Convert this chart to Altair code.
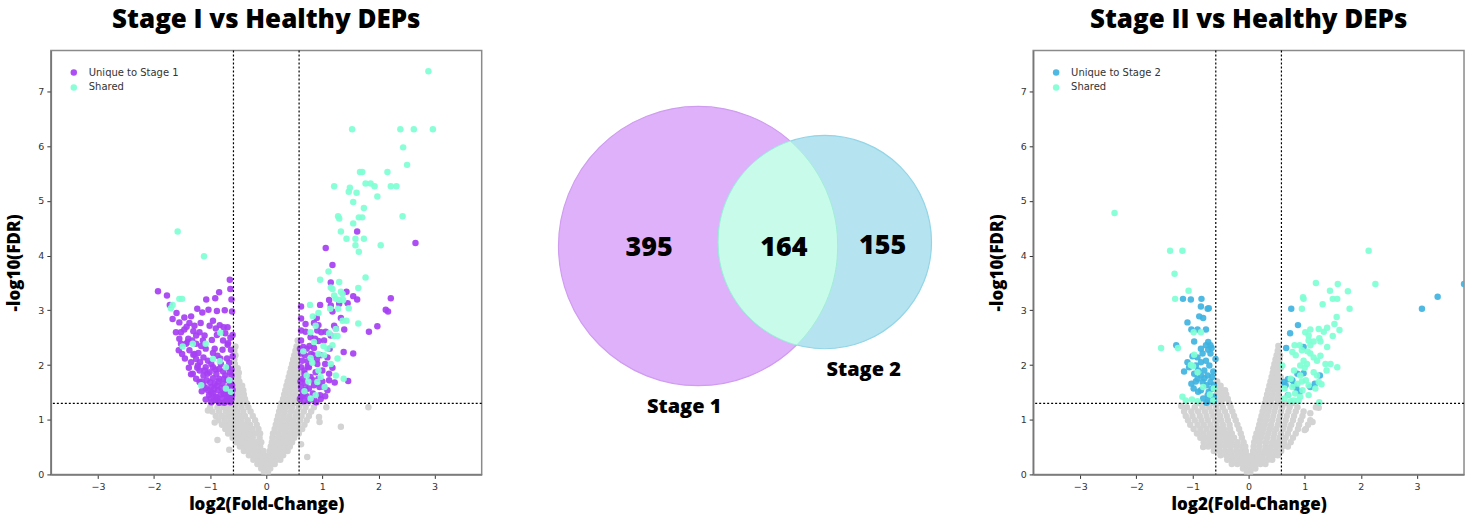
import math
import numpy as np
import pandas as pd
import altair as alt

# ---------------------------------------------------------------- thresholds
FC_CUT = 0.585   # log2(1.5)
FDR_CUT = 1.3    # -log10(0.05)

X_DOMAIN = [-3.84, 3.84]
Y_DOMAIN = [0, 7.75]
X_TICKS = [-3, -2, -1, 0, 1, 2, 3]
Y_TICKS = [0, 1, 2, 3, 4, 5, 6, 7]

PURPLE = "#a63ff3"
BLUE = "#3fb3df"
MINT = "#7fffd4"
GREY = "#d3d3d3"

# ------------------------------------------------ Stage I vs Healthy (log2FC, -log10 FDR)
S1_UNIQUE = [
    (-1.93, 3.35), (-1.77, 3.27), (-1.72, 3.10), (-0.65, 3.56), (-0.64, 3.39), (-0.84, 3.33),
    (-0.91, 3.22), (-1.07, 3.20), (-0.61, 2.98), (-0.74, 3.00), (-1.03, 3.01), (-0.88, 2.99),
    (-1.23, 3.03), (-1.14, 2.96), (-1.34, 2.89), (-1.46, 2.87), (-1.67, 2.84), (-1.55, 2.78),
    (-1.37, 2.77), (-1.28, 2.72), (-1.17, 2.77), (-0.95, 2.81), (-1.01, 2.72), (-0.83, 2.73),
    (-0.90, 2.67), (-0.69, 2.69), (-0.76, 2.69), (-1.61, 2.60), (-1.52, 2.60), (-1.46, 2.65),
    (-1.19, 2.60), (-1.25, 2.54), (-1.10, 2.54), (-0.64, 2.50), (-1.55, 2.48), (-1.39, 2.48),
    (-1.32, 2.45), (-0.97, 2.46), (-1.52, 2.39), (-1.43, 2.39), (-1.25, 2.39), (-1.16, 2.35),
    (-0.69, 2.37), (-1.56, 2.27), (-1.37, 2.27), (-1.08, 2.30), (-0.92, 2.30), (-0.78, 2.28),
    (-1.21, 2.22), (-1.30, 2.19), (-0.60, 2.16), (-0.87, 2.17), (-1.12, 2.14), (-1.25, 2.11),
    (-1.04, 2.08), (-1.18, 2.05), (-0.81, 2.02), (-0.66, 2.04), (-1.34, 2.05), (-1.22, 1.99),
    (-0.95, 1.96), (-1.08, 1.96), (-0.84, 1.93), (-1.19, 1.90), (-1.01, 1.87), (-1.31, 1.84),
    (-0.89, 1.84), (-0.65, 1.87), (-1.12, 1.81), (-0.73, 1.81), (-1.34, 1.83), (-0.95, 1.76),
    (-0.84, 1.75), (-1.06, 1.72), (-1.19, 1.69), (-0.66, 1.72), (-0.92, 1.66), (-0.78, 1.66),
    (-1.12, 1.63), (-0.98, 1.60), (-0.72, 1.58), (-0.86, 1.54), (-1.04, 1.54), (-0.63, 1.52),
    (-0.95, 1.48), (-0.81, 1.46), (-0.69, 1.45), (-0.90, 1.42), (-0.99, 1.39), (-0.78, 1.39),
    (-0.66, 1.37), (-0.87, 1.35), (-0.98, 1.32), (-0.72, 1.34), (-0.84, 1.31), (-0.61, 1.45),
    (-0.61, 1.63), (-0.62, 1.81), (-0.62, 1.38), (-0.70, 1.42), (-0.76, 1.48), (-0.93, 1.36),
    (-1.02, 1.45), (-1.08, 1.58), (-1.15, 1.70), (-1.23, 1.95), (-1.10, 1.90), (-0.98, 2.02),
    (-0.70, 2.12), (-0.63, 2.28), (-0.77, 2.45), (-0.88, 2.55), (-1.28, 2.20), (-1.40, 2.42),
    (-1.45, 2.12), (-0.75, 1.75), (-0.68, 1.95), (-0.88, 1.62), (-0.74, 1.53), (-0.64, 1.66),
    (-0.60, 1.55), (-0.67, 1.60), (-0.80, 1.58), (-0.93, 1.56), (-1.00, 1.68), (-0.85, 1.70),
    (-0.70, 1.72), (-0.62, 1.92), (-0.77, 1.88), (-0.91, 1.92), (-1.05, 1.84), (-0.82, 2.12),
    (-0.95, 2.22), (-0.68, 2.40), (-0.60, 2.55), (-0.73, 2.58), (-1.13, 2.45), (-1.30, 2.62),
    (-1.42, 2.70), (-1.60, 2.95), (-0.88, 1.40), (-1.08, 1.37), (-0.75, 1.31), (-0.64, 1.32),
    (-0.98, 1.50), (-1.15, 1.52), (-1.25, 1.75), (-1.38, 1.95), (-1.50, 2.20), (-0.62, 3.20),
    # up-regulated
    (1.62, 4.44), (2.66, 4.23), (1.06, 4.14), (1.18, 3.83), (1.15, 3.51), (1.43, 3.34),
    (1.55, 3.26), (1.62, 3.20), (2.22, 3.22), (0.62, 3.07), (0.96, 3.10), (1.12, 3.19),
    (1.15, 3.09), (1.45, 3.13), (1.30, 3.12), (2.13, 3.01), (2.17, 2.98), (1.18, 2.98),
    (1.33, 2.86), (0.90, 2.86), (0.85, 2.77), (0.93, 2.73), (1.98, 2.71), (1.21, 2.72),
    (1.24, 2.67), (1.39, 2.65), (1.83, 2.61), (0.62, 2.63), (0.70, 2.61), (0.91, 2.63),
    (0.98, 2.60), (1.06, 2.61), (1.15, 2.54), (0.79, 2.51), (0.87, 2.48), (0.93, 2.44),
    (0.62, 2.45), (0.66, 2.33), (0.77, 2.35), (0.85, 2.31), (1.55, 2.21), (1.38, 2.24),
    (0.62, 2.21), (0.69, 2.18), (0.84, 2.18), (0.97, 2.18), (0.64, 2.08), (0.74, 2.07),
    (0.91, 2.02), (1.05, 2.02), (1.09, 2.14), (0.62, 1.96), (0.76, 1.96), (0.88, 1.87),
    (1.00, 1.90), (1.12, 1.84), (0.68, 1.84), (0.79, 1.78), (0.65, 1.75), (0.93, 1.75),
    (1.12, 1.72), (1.22, 1.68), (1.46, 1.71), (0.70, 1.66), (0.85, 1.63), (1.03, 1.60),
    (0.62, 1.60), (0.76, 1.57), (1.09, 1.54), (0.65, 1.51), (0.83, 1.48), (0.96, 1.45),
    (1.05, 1.43), (0.72, 1.43), (0.62, 1.42), (0.76, 1.35), (0.67, 1.34), (0.85, 1.37),
    (0.60, 1.38), (0.66, 1.45), (0.70, 1.55), (0.61, 1.70), (0.68, 1.90), (0.60, 2.30),
    (0.72, 2.30), (0.80, 2.20), (0.90, 2.10), (0.74, 1.98), (0.83, 1.72), (0.95, 1.60),
    (0.89, 1.32), (0.97, 1.38), (1.00, 1.70), (0.62, 2.85), (0.70, 2.75), (1.03, 2.45),
    (1.13, 2.30), (1.18, 1.95),
]

S1_SHARED = [
    (2.89, 7.37), (1.53, 6.31), (2.39, 6.31), (2.63, 6.31), (2.97, 6.31), (2.44, 5.98),
    (2.51, 5.66), (1.67, 5.53), (1.71, 5.53), (2.16, 5.53), (1.21, 5.27), (1.49, 5.24),
    (1.47, 5.17), (1.61, 5.15), (1.77, 5.32), (1.86, 5.32), (1.93, 5.27), (2.22, 5.27),
    (2.32, 5.27), (1.98, 5.08), (1.55, 4.98), (1.74, 4.87), (1.28, 4.72), (1.30, 4.68),
    (1.65, 4.70), (1.71, 4.70), (2.43, 4.72), (1.55, 4.59), (1.33, 4.44), (1.43, 4.31),
    (1.59, 4.31), (1.74, 4.31), (1.59, 4.19), (2.04, 4.19), (1.65, 4.07), (1.11, 3.71),
    (0.96, 3.56), (1.77, 3.60), (1.30, 3.52), (1.15, 3.42), (1.18, 3.39), (1.33, 3.34),
    (1.36, 3.30), (1.64, 3.41), (1.21, 3.27), (1.24, 3.21), (1.30, 3.19), (1.37, 3.19),
    (0.78, 3.10), (1.14, 3.03), (1.28, 3.03), (1.47, 3.04), (0.93, 2.95), (1.36, 2.81),
    (1.43, 2.81), (1.64, 2.76), (0.83, 2.89), (0.88, 2.72), (1.24, 2.66), (0.79, 2.60),
    (1.12, 2.58), (1.21, 2.53), (1.27, 2.53), (0.85, 2.42), (1.18, 2.36), (1.09, 2.30),
    (0.93, 2.20), (1.03, 2.18), (1.27, 2.12), (0.79, 2.13), (1.15, 2.02), (0.82, 2.04),
    (0.93, 1.90), (1.24, 1.81), (1.38, 1.75), (0.72, 1.81), (0.91, 1.69), (1.04, 1.60),
    (0.79, 1.39), (0.68, 1.52), (0.75, 1.70), (0.88, 1.45), (0.97, 1.78), (1.02, 2.35),
    (0.66, 2.25),
    # down-regulated
    (-1.58, 4.44), (-1.11, 3.99), (-1.67, 3.10), (-1.70, 3.04), (-1.55, 3.21), (-1.50, 3.21),
    (-0.82, 2.59), (-1.31, 2.39), (-1.08, 2.39), (-1.49, 2.34), (-0.95, 2.11), (-0.83, 2.07),
    (-0.72, 1.96), (-1.16, 1.63), (-0.66, 1.72), (-0.63, 1.51), (-0.72, 1.57),
]

# non-significant proteins, one row per FDR level: (-log10 FDR, [log2FC, ...])
S1_GREY_ROWS = [
    (0.03, [-0.04, 0.03]),
    (0.11, [-0.09, -0.01, 0.07]),
    (0.19, [-0.16, -0.08, 0.00, 0.08, 0.15]),
    (0.27, [-0.23, -0.15, -0.07, 0.02, 0.10, 0.18, 0.25]),
    (0.35, [-0.31, -0.22, -0.13, -0.04, 0.05, 0.13, 0.21, 0.30]),
    (0.43, [-0.40, -0.31, -0.22, -0.13, -0.05, 0.06, 0.14, 0.23, 0.32, 0.38]),
    (0.51, [-0.47, -0.38, -0.29, -0.20, -0.11, 0.08, 0.17, 0.26, 0.35, 0.42]),
    (0.59, [-0.54, -0.45, -0.36, -0.27, -0.17, -0.09, 0.10, 0.19, 0.28, 0.37, 0.46]),
    (0.67, [-0.60, -0.51, -0.42, -0.33, -0.24, -0.12, 0.11, 0.21, 0.30, 0.40, 0.50]),
    (0.75, [-0.68, -0.58, -0.48, -0.39, -0.30, -0.20, -0.11, 0.12, 0.22, 0.32, 0.42, 0.52, 0.58]),
    (0.83, [-0.73, -0.64, -0.54, -0.44, -0.35, -0.25, -0.14, 0.15, 0.25, 0.35, 0.45, 0.55, 0.64]),
    (0.91, [-0.79, -0.69, -0.59, -0.49, -0.39, -0.29, -0.17, 0.17, 0.27, 0.37, 0.47, 0.57, 0.68]),
    (0.99, [-0.85, -0.74, -0.64, -0.54, -0.44, -0.33, -0.20, 0.19, 0.29, 0.39, 0.49, 0.60, 0.72]),
    (1.07, [-0.90, -0.79, -0.68, -0.58, -0.48, -0.38, -0.24, 0.21, 0.31, 0.41, 0.52, 0.63, 0.76]),
    (1.15, [-0.96, -0.84, -0.72, -0.62, -0.52, -0.41, -0.28, 0.23, 0.33, 0.44, 0.55, 0.67, 0.80]),
    (1.23, [-1.00, -0.87, -0.76, -0.66, -0.55, -0.44, -0.32, 0.25, 0.35, 0.46, 0.58, 0.70, 0.85]),
    (1.30, [-0.80, -0.68, -0.56, -0.46, -0.35, 0.27, 0.38, 0.49, 0.62, 0.74]),
    (1.38, [-0.56, -0.47, -0.38, 0.30, 0.40, 0.50, 0.57]),
    (1.46, [-0.57, -0.48, -0.40, 0.32, 0.42, 0.52]),
    (1.54, [-0.56, -0.48, -0.41, 0.34, 0.43, 0.53]),
    (1.62, [-0.57, -0.50, -0.43, 0.36, 0.45, 0.54]),
    (1.70, [-0.56, -0.48, 0.38, 0.47, 0.56]),
    (1.78, [-0.57, -0.50, 0.40, 0.48, 0.56]),
    (1.86, [-0.56, -0.49, 0.42, 0.50, 0.57]),
    (1.94, [-0.57, -0.51, 0.44, 0.52]),
    (2.02, [-0.56, 0.46, 0.54]),
    (2.10, [-0.57, 0.48, 0.55]),
    (2.18, [-0.55, 0.50, 0.56]),
    (2.26, [-0.57, 0.52]),
    (2.34, [-0.55, 0.54]),
    (2.45, [0.56]),
]
S1_GREY_EXTRA = [
    (-0.87, 0.63), (0.73, 0.32), (0.94, 1.05), (0.95, 0.96), (1.07, 1.23), (1.82, 1.23),
    (1.33, 0.87), (-1.04, 1.17), (-0.92, 0.95), (-0.66, 0.45), (0.62, 0.55),
]

# ------------------------------------------------ Stage II vs Healthy
S2_UNIQUE = [
    (3.84, 3.48), (3.37, 3.25), (3.09, 3.03), (0.76, 3.03), (0.88, 2.73), (0.74, 2.58),
    (0.67, 2.31), (0.98, 2.33), (0.78, 1.72), (0.87, 1.84), (0.98, 1.85), (0.63, 1.69),
    (0.70, 1.74), (0.66, 1.63), (0.81, 1.63), (0.85, 1.58), (0.91, 1.51), (1.10, 1.60),
    (1.18, 1.66), (1.27, 1.81), (0.70, 1.45),
    (-1.17, 3.21), (-1.03, 3.20), (-0.84, 3.21), (-0.71, 3.04), (-0.73, 3.03), (-0.85, 3.07),
    (-0.88, 2.89), (-0.81, 2.86), (-1.09, 2.78), (-1.02, 2.65), (-0.91, 2.65), (-0.76, 2.65),
    (-0.97, 2.43), (-1.29, 2.36), (-0.72, 2.42), (-0.68, 2.36), (-0.76, 2.36), (-0.85, 2.30),
    (-0.72, 2.28), (-0.66, 2.31), (-0.59, 2.11), (-0.82, 2.21), (-0.68, 2.21), (-0.91, 2.14),
    (-1.00, 2.16), (-1.09, 2.05), (-0.85, 2.05), (-0.76, 2.08), (-0.94, 1.99), (-0.70, 1.99),
    (-1.06, 1.96), (-1.15, 1.88), (-0.90, 1.90), (-0.79, 1.90), (-0.63, 1.88), (-0.97, 1.84),
    (-0.85, 1.81), (-0.73, 1.81), (-0.65, 1.78), (-0.91, 1.75), (-0.82, 1.69), (-0.68, 1.69),
    (-1.02, 1.66), (-0.75, 1.63), (-0.62, 1.63), (-0.98, 1.57), (-0.85, 1.54), (-0.71, 1.51),
    (-0.90, 1.51), (-0.73, 1.45), (-0.62, 1.42), (-0.81, 1.39), (-0.72, 1.35), (-0.62, 1.34),
    (-0.75, 1.31), (-0.94, 1.70), (-0.79, 1.76), (-0.66, 1.56),
]

S2_SHARED = [
    (-2.39, 4.78), (-1.40, 4.09), (-1.18, 4.09), (-1.32, 3.67), (-1.31, 3.21), (-1.07, 3.36),
    (-1.56, 2.31), (-1.26, 2.31), (-0.98, 2.60), (-0.85, 2.60), (-0.97, 2.19), (-1.03, 2.00),
    (-0.99, 1.98), (-0.91, 1.87), (-0.81, 1.60), (-1.18, 1.42), (-1.12, 1.35), (-1.01, 1.37),
    (-0.91, 1.34), (-0.69, 1.46), (-0.62, 1.57), (-0.63, 1.35),
    (2.14, 4.09), (1.20, 3.50), (1.59, 3.48), (2.26, 3.48), (1.45, 3.36), (1.77, 3.35),
    (0.97, 3.24), (0.98, 3.21), (1.50, 3.21), (1.58, 3.21), (1.32, 3.11), (0.95, 3.03),
    (1.80, 3.03), (1.57, 2.88), (1.53, 2.75), (1.40, 2.68), (1.62, 2.64), (1.10, 2.65),
    (1.01, 2.60), (1.07, 2.54), (1.25, 2.66), (1.34, 2.61), (1.50, 2.53), (1.26, 2.49),
    (1.28, 2.43), (1.07, 2.45), (1.16, 2.43), (0.82, 2.36), (0.91, 2.36), (1.10, 2.36),
    (1.40, 2.33), (0.78, 2.24), (0.95, 2.27), (1.10, 2.21), (1.28, 2.17), (0.84, 2.18),
    (1.16, 2.14), (1.22, 2.08), (1.37, 2.02), (1.46, 2.02), (1.58, 1.96), (0.98, 2.08),
    (1.04, 2.02), (0.92, 1.99), (0.60, 1.99), (1.39, 1.90), (0.81, 1.90), (1.16, 1.87),
    (0.92, 1.81), (1.22, 1.81), (0.75, 1.75), (1.02, 1.72), (1.25, 1.69), (0.87, 1.66),
    (1.30, 1.65), (0.78, 1.60), (1.07, 1.63), (0.64, 1.57), (0.96, 1.54), (1.19, 1.57),
    (0.83, 1.48), (0.71, 1.45), (1.07, 1.45), (0.92, 1.42), (0.64, 1.39), (0.80, 1.35),
    (0.89, 1.35), (1.26, 1.32), (0.75, 1.34), (1.00, 1.95), (1.05, 2.25), (0.95, 1.70),
]

S2_GREY_ROWS = [
    (0.03, [-0.03, 0.03]),
    (0.11, [-0.10, -0.02, 0.06, 0.12]),
    (0.19, [-0.30, -0.20, -0.11, -0.03, 0.05, 0.13, 0.21, 0.30]),
    (0.27, [-0.38, -0.28, -0.19, -0.10, -0.02, 0.07, 0.16, 0.25, 0.34, 0.42]),
    (0.35, [-0.50, -0.40, -0.30, -0.20, -0.11, -0.03, 0.07, 0.16, 0.25, 0.35, 0.45, 0.52]),
    (0.43, [-0.62, -0.52, -0.42, -0.32, -0.22, -0.12, -0.05, 0.08, 0.18, 0.28, 0.38, 0.48, 0.58]),
    (0.51, [-0.72, -0.62, -0.52, -0.42, -0.32, -0.22, -0.12, -0.06, 0.09, 0.19, 0.30, 0.40, 0.50, 0.60, 0.70]),
    (0.59, [-0.80, -0.70, -0.60, -0.50, -0.40, -0.30, -0.20, -0.09, 0.10, 0.20, 0.31, 0.42, 0.52, 0.63, 0.75]),
    (0.67, [-0.86, -0.76, -0.66, -0.56, -0.46, -0.36, -0.26, -0.12, 0.12, 0.22, 0.33, 0.44, 0.55, 0.66, 0.79]),
    (0.75, [-0.92, -0.81, -0.70, -0.60, -0.50, -0.40, -0.30, -0.14, 0.14, 0.24, 0.35, 0.46, 0.58, 0.70, 0.84]),
    (0.83, [-0.98, -0.86, -0.75, -0.64, -0.54, -0.44, -0.33, -0.17, 0.17, 0.27, 0.38, 0.49, 0.61, 0.73, 0.88, 1.02]),
    (0.91, [-1.04, -0.91, -0.80, -0.68, -0.57, -0.46, -0.34, -0.20, 0.19, 0.29, 0.40, 0.52, 0.64, 0.76, 0.90, 1.06]),
    (0.99, [-1.08, -0.96, -0.84, -0.72, -0.60, -0.49, -0.37, -0.23, 0.21, 0.31, 0.42, 0.54, 0.66, 0.79, 0.93, 1.10]),
    (1.07, [-1.12, -1.00, -0.87, -0.75, -0.63, -0.51, -0.39, -0.26, 0.23, 0.33, 0.44, 0.56, 0.68, 0.81, 0.96]),
    (1.15, [-1.15, -1.02, -0.90, -0.78, -0.66, -0.54, -0.42, -0.29, 0.25, 0.35, 0.46, 0.58, 0.71, 0.84, 0.98]),
    (1.23, [-1.10, -0.96, -0.82, -0.70, -0.58, -0.46, -0.32, 0.27, 0.37, 0.48, 0.60, 0.73, 0.87, 1.20]),
    (1.30, [-0.88, -0.74, -0.62, -0.50, -0.35, 0.29, 0.40, 0.52, 0.65, 0.78]),
    (1.38, [-0.56, -0.46, -0.37, 0.31, 0.41, 0.51, 0.57]),
    (1.46, [-0.57, -0.48, -0.40, 0.33, 0.43, 0.53]),
    (1.54, [-0.56, -0.48, -0.42, 0.35, 0.44, 0.54]),
    (1.62, [-0.57, -0.50, 0.37, 0.46, 0.55]),
    (1.70, [-0.56, 0.39, 0.48, 0.56]),
    (1.78, [0.41, 0.49, 0.57]),
    (1.86, [0.43, 0.51]),
    (1.94, [0.44, 0.52, 0.57]),
    (2.02, [0.46, 0.54]),
    (2.10, [0.48, 0.55]),
    (2.18, [0.50, 0.56]),
    (2.26, [0.52]),
    (2.35, [0.53]),
]
S2_GREY_EXTRA = [
    (-0.81, 0.50), (1.14, 0.96), (1.00, 0.81), (-1.20, 1.25), (1.10, 1.12), (1.25, 1.22),
]

# ------------------------------------------------ Venn diagram
VENN_COUNTS = [395, 164, 155]
VENN_SETS = ["Stage 1", "Stage 2"]

# panel geometry (pixels): the middle panel uses a 1:1 pixel coordinate frame
MID_X0, MID_W = 503, 463
MID_Y0, MID_H = 48, 425
CIRCLE_1 = (697, 244, 140)   # centre x, centre y, radius
CIRCLE_2 = (824, 240, 107)
COUNT_POS = [(648, 246), (783, 246), (882, 244)]
SET_LABEL_POS = [(683, 405), (863, 368)]

HEAD_FONT = "Open Sans"
TICK_FONT = "DejaVu Sans"
TITLE_OFFSET = 17


def grey_points(rows, extra):
    pts = [(x, y) for y, xs in rows for x in xs]
    return pd.DataFrame(pts + list(extra), columns=["x", "y"])


def volcano(title, grey_rows, grey_extra, unique, shared, unique_label, unique_color):
    x_enc = alt.X(
        "x:Q",
        scale=alt.Scale(domain=X_DOMAIN, nice=False, zero=False),
        axis=alt.Axis(values=X_TICKS, title="log2(Fold-Change)", format="d", titlePadding=6),
    )
    y_enc = alt.Y(
        "y:Q",
        scale=alt.Scale(domain=Y_DOMAIN, nice=False, zero=False),
        axis=alt.Axis(values=Y_TICKS, title="-log10(FDR)", format="d", titlePadding=14),
    )

    grey = alt.Chart(grey_points(grey_rows, grey_extra)).mark_circle(
        size=42, color=GREY, opacity=1, clip=True
    ).encode(x=x_enc, y=y_enc)

    sig_df = pd.DataFrame(
        [(x, y, unique_label) for x, y in unique] + [(x, y, "Shared") for x, y in shared],
        columns=["x", "y", "group"],
    )
    sig = alt.Chart(sig_df).mark_circle(size=42, opacity=0.92, clip=True).encode(
        x=x_enc,
        y=y_enc,
        color=alt.Color(
            "group:N",
            scale=alt.Scale(domain=[unique_label, "Shared"], range=[unique_color, MINT]),
            legend=alt.Legend(
                title=None, orient="none", legendX=18, legendY=17,
                symbolType="circle", symbolSize=42, symbolOpacity=0.92,
                labelFont=TICK_FONT, labelFontSize=10, labelColor="#333",
                rowPadding=5, labelOffset=10,
            ),
        ),
    )

    vlines = alt.Chart(pd.DataFrame({"x": [-FC_CUT, FC_CUT]})).mark_rule(
        color="black", strokeDash=[2, 2], strokeWidth=1.2
    ).encode(x="x:Q")
    hline = alt.Chart(pd.DataFrame({"y": [FDR_CUT]})).mark_rule(
        color="black", strokeDash=[2, 2], strokeWidth=1.2
    ).encode(y="y:Q")

    return alt.layer(grey, sig, vlines, hline).properties(
        width=432, height=425,
        title=alt.TitleParams(title, font=HEAD_FONT, fontSize=26, fontWeight=800,
                              color="black", anchor="middle", offset=TITLE_OFFSET),
    )


def venn():
    vx = lambda f: alt.X(f, scale=alt.Scale(domain=[MID_X0, MID_X0 + MID_W], nice=False, zero=False), axis=None)
    vy = lambda f: alt.Y(f, scale=alt.Scale(domain=[MID_Y0, MID_Y0 + MID_H], reverse=True, nice=False, zero=False), axis=None)

    def disc(circle, fill, stroke):
        cx, cy, r = circle
        return alt.Chart(pd.DataFrame({"x": [cx], "y": [cy]})).mark_arc(
            theta=0, theta2=2 * math.pi, radius=r, fill=fill, stroke=stroke, strokeWidth=1.2
        ).encode(x=vx("x:Q"), y=vy("y:Q"))

    # overlap region between the two circles
    (x1, y1, r1), (x2, y2, r2) = CIRCLE_1, CIRCLE_2
    xs = np.linspace(x2 - r2, x1 + r1, 240)
    h1 = np.sqrt(np.clip(r1 ** 2 - (xs - x1) ** 2, 0, None))
    h2 = np.sqrt(np.clip(r2 ** 2 - (xs - x2) ** 2, 0, None))
    top = np.maximum(y1 - h1, y2 - h2)
    bottom = np.minimum(y1 + h1, y2 + h2)
    keep = bottom >= top
    lens_df = pd.DataFrame({"x": xs[keep], "top": top[keep], "bottom": bottom[keep]})
    lens = alt.Chart(lens_df).mark_area(
        fill="#c8fbea", stroke="#9eeed6", strokeWidth=1.0
    ).encode(x=vx("x:Q"), y=vy("top:Q"), y2="bottom:Q")

    counts = alt.Chart(pd.DataFrame({
        "x": [p[0] for p in COUNT_POS], "y": [p[1] for p in COUNT_POS], "t": VENN_COUNTS,
    })).mark_text(font=HEAD_FONT, fontSize=27, fontWeight=800, color="black").encode(
        x=vx("x:Q"), y=vy("y:Q"), text="t:N"
    )
    sets = alt.Chart(pd.DataFrame({
        "x": [p[0] for p in SET_LABEL_POS], "y": [p[1] for p in SET_LABEL_POS], "t": VENN_SETS,
    })).mark_text(font=HEAD_FONT, fontSize=20, fontWeight=800, color="black").encode(
        x=vx("x:Q"), y=vy("y:Q"), text="t:N"
    )

    return alt.layer(
        disc(CIRCLE_1, "#e0b1fb", "#cf9cf0"),
        disc(CIRCLE_2, "#b5e3f0", "#93d5e7"),
        lens, counts, sets,
    ).properties(
        width=MID_W, height=MID_H,
        view=alt.ViewBackground(stroke="transparent"),
        title=alt.TitleParams(" ", font=HEAD_FONT, fontSize=26, fontWeight=800,
                              anchor="middle", offset=TITLE_OFFSET),
    )


left = volcano("Stage I vs Healthy DEPs", S1_GREY_ROWS, S1_GREY_EXTRA,
               S1_UNIQUE, S1_SHARED, "Unique to Stage 1", PURPLE)
right = volcano("Stage II vs Healthy DEPs", S2_GREY_ROWS, S2_GREY_EXTRA,
                S2_UNIQUE, S2_SHARED, "Unique to Stage 2", BLUE)

chart = alt.hconcat(left, venn(), right, spacing=20).resolve_scale(
    color="independent"
).resolve_legend(color="independent").configure(
    background="white", padding=5
).configure_view(
    stroke="#8a8a8a", strokeWidth=1.5
).configure_axis(
    grid=False, domainColor="#777", domainWidth=1.5,
    tickColor="#333", tickSize=4, tickWidth=1,
    labelFont=TICK_FONT, labelFontSize=9.5, labelColor="#333", labelPadding=3,
    titleFont=HEAD_FONT, titleFontSize=17, titleFontWeight=800, titleColor="black",
)

chart.save("out.html", embed_options={"renderer": "svg", "actions": False})
